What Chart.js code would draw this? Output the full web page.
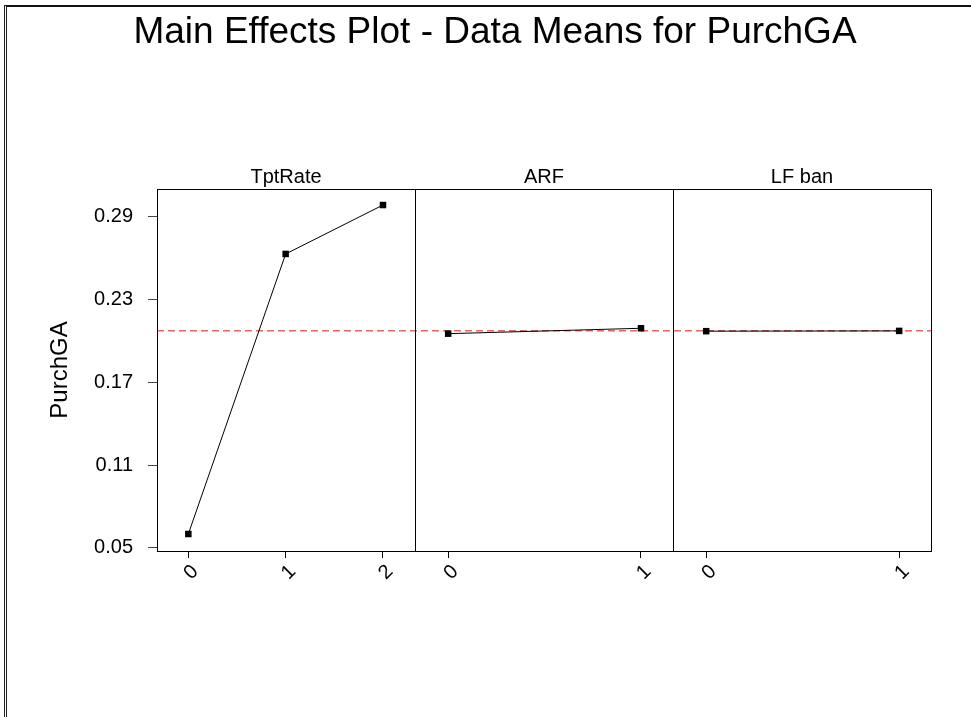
<!DOCTYPE html>
<html>
<head>
<meta charset="utf-8">
<title>Main Effects Plot - Data Means for PurchGA</title>
<script src="https://cdn.jsdelivr.net/npm/chart.js@4.4.1/dist/chart.umd.min.js"></script>
<style>
    html, body { margin: 0; padding: 0; background: #fff; overflow: hidden; }
    #frame {
        position: absolute; left: 4px; top: 5px; width: 1100px; height: 900px;
        border-left: 3px double #222; border-top: 2px solid #111;
    }
    #wrap { position: absolute; left: 0; top: 0; width: 990px; height: 717px; }
</style>
</head>
<body>
<div id="frame"></div>
<div id="wrap"><canvas id="effectsChart"></canvas></div>
<script>
// Médias (PurchGA por nível de cada fator)
const tptLevels = [0, 1, 2];
const tptMeans = [0.0601, 0.2628, 0.2982];
const arfLevels = [0, 1];
const arfMeans = [0.2051, 0.2090];
const lfLevels = [0, 1];
const lfMeans = [0.2069, 0.2071];
const grandMean = 0.2072;

const factorNames = ['TptRate', 'ARF', 'LF ban'];
const yTicks = [0.05, 0.11, 0.17, 0.23, 0.29];

const fontFamily = "'Liberation Sans', Arial, sans-serif";

// linha da média geral + moldura de cada painel
const panelFrames = {
    id: 'panelFrames',
    beforeDatasetsDraw(chart) {
        const { ctx, chartArea, scales } = chart;
        const y = scales.y.getPixelForValue(grandMean);
        ctx.save();
        ctx.strokeStyle = '#ff5a5a';
        ctx.lineWidth = 1.5;
        ctx.setLineDash([7, 4]);
        ctx.beginPath();
        ctx.moveTo(chartArea.left, y);
        ctx.lineTo(chartArea.right, y);
        ctx.stroke();
        ctx.setLineDash([]);
        ctx.strokeStyle = '#000';
        ctx.lineWidth = 1;
        ['x0', 'x1', 'x2'].forEach(id => {
            const s = scales[id];
            ctx.strokeRect(Math.round(s.left) + 0.5, Math.round(chartArea.top) + 0.5,
                Math.round(s.width), Math.round(chartArea.height));
        });
        ctx.restore();
    }
};

function makeSeries(levels, means, axisId) {
    return {
        data: levels.map((x, i) => ({ x: x, y: means[i] })),
        xAxisID: axisId,
        yAxisID: 'y',
        borderColor: '#000',
        borderWidth: 1,
        pointStyle: 'rect',
        pointRadius: 4.6,
        pointBackgroundColor: '#000',
        pointBorderColor: '#000',
        pointBorderWidth: 0,
        fill: false
    };
}

// eixo x inferior de cada painel
function bottomAxis(levels, min, max) {
    return {
        type: 'linear',
        position: 'bottom',
        stack: 'panels',
        min: min,
        max: max,
        afterBuildTicks: s => { s.ticks = levels.map(v => ({ value: v })); },
        afterFit: s => { s.height = 166; },
        border: { display: false },
        grid: { drawOnChartArea: false, drawTicks: true, tickLength: 7, color: '#000' },
        ticks: {
            autoSkip: false,
            minRotation: 45,
            maxRotation: 45,
            padding: 2,
            labelOffset: 7,
            color: '#000',
            font: { family: fontFamily, size: 20 },
            callback: v => String(v)
        }
    };
}

// eixo superior só com o nome do fator
function headAxis(name) {
    return {
        type: 'linear',
        position: 'top',
        stack: 'heads',
        afterFit: s => { s.height = 24; },
        border: { display: false },
        grid: { display: false },
        ticks: { display: false },
        title: {
            display: true,
            text: name,
            color: '#000',
            padding: 0,
            font: { family: fontFamily, size: 20 }
        }
    };
}

const ctx = document.getElementById('effectsChart').getContext('2d');

const chart = new Chart(ctx, {
    type: 'line',
    data: {
        datasets: [
            makeSeries(tptLevels, tptMeans, 'x0'),
            makeSeries(arfLevels, arfMeans, 'x1'),
            makeSeries(lfLevels, lfMeans, 'x2')
        ]
    },
    options: {
        responsive: true,
        maintainAspectRatio: false,
        animation: false,
        events: [],
        layout: { padding: 0 },
        plugins: {
            legend: { display: false },
            tooltip: { enabled: false },
            title: {
                display: true,
                text: 'Main Effects Plot - Data Means for PurchGA',
                color: '#000',
                font: { family: fontFamily, size: 37, weight: 'normal' },
                padding: { top: 11, bottom: 109.6 }
            }
        },
        scales: {
            x0: bottomAxis(tptLevels, -0.322, 2.329),
            x1: bottomAxis(arfLevels, -0.172, 1.166),
            x2: bottomAxis(lfLevels, -0.172, 1.165),
            // os eixos de cima são empilhados na ordem inversa
            h2: headAxis(factorNames[2]),
            h1: headAxis(factorNames[1]),
            h0: headAxis(factorNames[0]),
            y: {
                type: 'linear',
                position: 'left',
                min: 0.0478,
                max: 0.3098,
                afterBuildTicks: s => { s.ticks = yTicks.map(v => ({ value: v })); },
                afterFit: s => { s.width = 157; },
                border: { display: false },
                grid: { drawOnChartArea: false, drawTicks: true, tickLength: 9, color: '#444' },
                ticks: {
                    padding: 15,
                    color: '#000',
                    font: { family: fontFamily, size: 20 },
                    callback: v => v.toFixed(2)
                },
                title: {
                    display: true,
                    text: 'PurchGA',
                    color: '#000',
                    padding: { top: 46 },
                    font: { family: fontFamily, size: 24 }
                }
            },
            yPad: {
                type: 'linear',
                position: 'right',
                afterFit: s => { s.width = 59; },
                border: { display: false },
                grid: { display: false },
                ticks: { display: false }
            }
        }
    },
    plugins: [panelFrames]
});
</script>
</body>
</html>
